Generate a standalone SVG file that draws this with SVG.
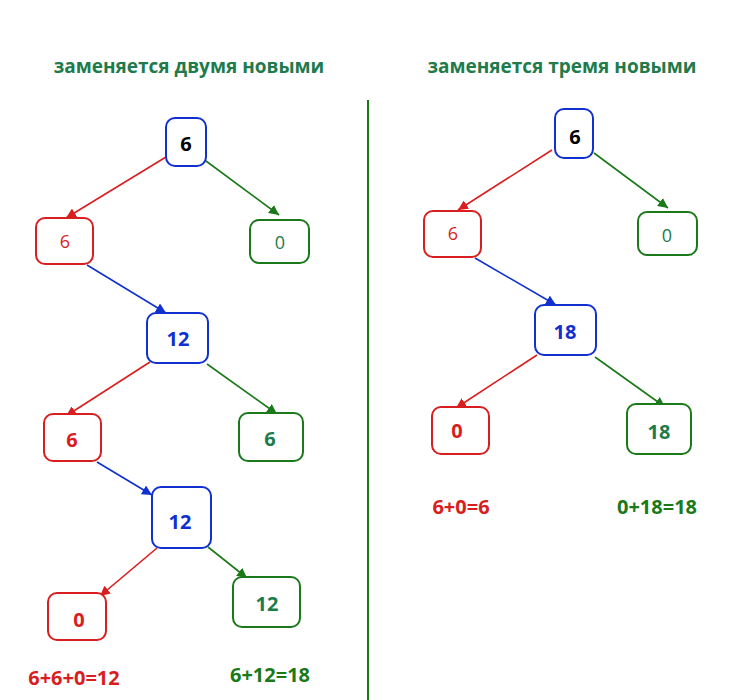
<svg xmlns="http://www.w3.org/2000/svg" width="750" height="700" viewBox="0 0 750 700">
<defs>
<marker id="ar" viewBox="0 0 10 10" refX="10" refY="5" markerWidth="10" markerHeight="10" markerUnits="userSpaceOnUse" orient="auto"><path d="M0,0 L10,5 L0,10 z" fill="#d81e1e"/></marker>
<marker id="ag" viewBox="0 0 10 10" refX="10" refY="5" markerWidth="10" markerHeight="10" markerUnits="userSpaceOnUse" orient="auto"><path d="M0,0 L10,5 L0,10 z" fill="#1a7a1a"/></marker>
<marker id="ab" viewBox="0 0 10 10" refX="10" refY="5" markerWidth="10" markerHeight="10" markerUnits="userSpaceOnUse" orient="auto"><path d="M0,0 L10,5 L0,10 z" fill="#1030d0"/></marker>
</defs>
<style>
text{font-family:"Open Sans","Liberation Sans",sans-serif;text-anchor:middle;dominant-baseline:central}
.title{font-size:19px;font-weight:bold;fill:#1e7b4b}
rect{fill:#fff;stroke-width:2}
.rb{stroke:#1030d0}.rr{stroke:#d81e1e}.rg{stroke:#1a7a1a}
.n{font-size:20px;font-weight:bold}
.t{font-size:18px;font-weight:normal}
.cb{fill:#1030d0}.cr{fill:#d81e1e}.cg{fill:#1e7b4b}.ck{fill:#000}
.lr{stroke:#d81e1e;stroke-width:1.6;fill:none;marker-end:url(#ar)}
.lg{stroke:#1a7a1a;stroke-width:1.6;fill:none;marker-end:url(#ag)}
.lb{stroke:#1030d0;stroke-width:1.6;fill:none;marker-end:url(#ab)}
.lbl{font-size:20px;font-weight:bold}
</style>
<rect x="0" y="0" width="750" height="700" fill="#fff" style="stroke:none"/>
<text class="title" x="189" y="66">заменяется двумя новыми</text>
<text class="title" x="562" y="66">заменяется тремя новыми</text>
<line x1="368" y1="100" x2="368" y2="700" stroke="#1a7a1a" stroke-width="2"/>
<g id="connectors">
<line class="lr" x1="166" y1="157" x2="66" y2="218"/>
<line class="lg" x1="206" y1="161" x2="279" y2="215"/>
<line class="lb" x1="87" y1="265" x2="166" y2="313"/>
<line class="lr" x1="150" y1="362" x2="66" y2="416"/>
<line class="lg" x1="207" y1="364" x2="277" y2="414"/>
<line class="lb" x1="97" y1="462" x2="152" y2="495"/>
<line class="lr" x1="157" y1="548" x2="100" y2="596"/>
<line class="lg" x1="208" y1="547" x2="247" y2="578"/>
<line class="lr" x1="552" y1="150" x2="458" y2="210"/>
<line class="lg" x1="594" y1="153" x2="668" y2="208"/>
<line class="lb" x1="475" y1="258" x2="556" y2="305"/>
<line class="lr" x1="537" y1="355" x2="456" y2="408"/>
<line class="lg" x1="595" y1="357" x2="665" y2="407"/>
</g>
<g id="L_root"><rect class="rb" x="166" y="118" width="40" height="48" rx="9"/><text class="n ck" x="186" y="143">6</text></g>
<g id="L_r1"><rect class="rr" x="36" y="218" width="57" height="46" rx="9"/><text class="t cr" x="65" y="241">6</text></g>
<g id="L_g1"><rect class="rg" x="250" y="220" width="59" height="43" rx="9"/><text class="t cg" x="280" y="242">0</text></g>
<g id="L_b2"><rect class="rb" x="147" y="313" width="61" height="50" rx="9"/><text class="n cb" x="178" y="338">12</text></g>
<g id="L_r2"><rect class="rr" x="44" y="414" width="57" height="47" rx="9"/><text class="n cr" x="72" y="439">6</text></g>
<g id="L_g2"><rect class="rg" x="239" y="413" width="64" height="48" rx="9"/><text class="n cg" x="270" y="438">6</text></g>
<g id="L_b3"><rect class="rb" x="152" y="487" width="59" height="61" rx="9"/><text class="n cb" x="180" y="521">12</text></g>
<g id="L_r3"><rect class="rr" x="48" y="593" width="58" height="47" rx="9"/><text class="n cr" x="79" y="619">0</text></g>
<g id="L_g3"><rect class="rg" x="233" y="577" width="67" height="50" rx="9"/><text class="n cg" x="267" y="603">12</text></g>
<text class="lbl cr" x="74" y="677">6+6+0=12</text>
<text class="lbl" fill="#1a7a1a" x="270" y="674">6+12=18</text>
<g id="R_root"><rect class="rb" x="555" y="109" width="38" height="49" rx="9"/><text class="n ck" x="575" y="136">6</text></g>
<g id="R_r1"><rect class="rr" x="424" y="211" width="57" height="46" rx="9"/><text class="t cr" x="453" y="233">6</text></g>
<g id="R_g1"><rect class="rg" x="638" y="212" width="59" height="43" rx="9"/><text class="t cg" x="667" y="235">0</text></g>
<g id="R_b2"><rect class="rb" x="535" y="305" width="61" height="50" rx="9"/><text class="n cb" x="565" y="331">18</text></g>
<g id="R_r2"><rect class="rr" x="432" y="407" width="57" height="47" rx="9"/><text class="n cr" x="457" y="430">0</text></g>
<g id="R_g2"><rect class="rg" x="627" y="404" width="64" height="50" rx="9"/><text class="n cg" x="659" y="431">18</text></g>
<text class="lbl cr" x="461" y="506">6+0=6</text>
<text class="lbl" fill="#1a7a1a" x="657" y="506">0+18=18</text>
</svg>
